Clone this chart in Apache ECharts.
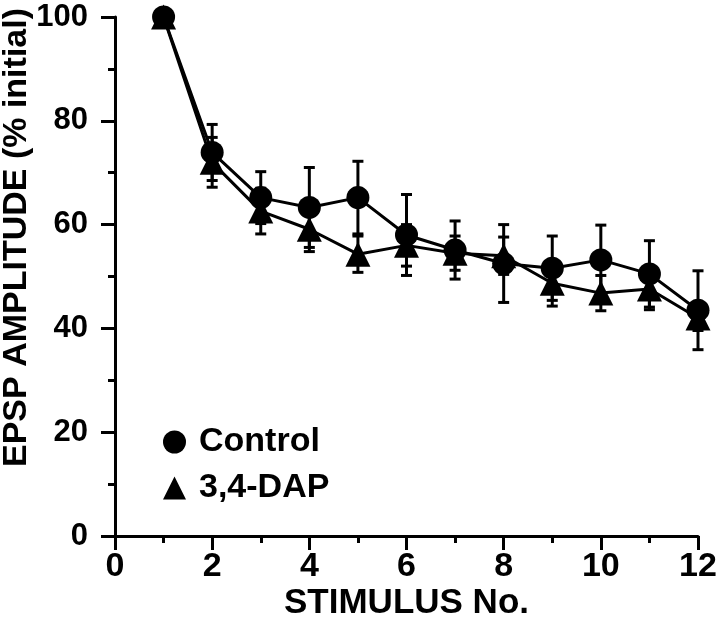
<!DOCTYPE html>
<html>
<head>
<meta charset="utf-8">
<script src="https://cdn.jsdelivr.net/npm/echarts@6/dist/echarts.min.js"></script>
<style>
  html, body { margin: 0; padding: 0; background: #fff; }
  #chart { width: 720px; height: 636px; }
</style>
</head>
<body>
<div id="chart"></div>
<script>
// Datos
const stimulus = [1, 2, 3, 4, 5, 6, 7, 8, 9, 10, 11, 12]
const control = [100, 73.9, 65.2, 63.3, 65.2, 58, 55.1, 52.5, 51.6, 53.2, 50.5, 43.5]
const controlErr = [0, 5.4, 5, 7.7, 7, 7.8, 5.6, 7.5, 6.2, 6.7, 6.4, 7.6]
const dap = [100, 72, 62.6, 59.1, 54.3, 56, 54.5, 54, 48.7, 46.8, 47.6, 42]
const dapErr = [0, 4.8, 4.4, 4.3, 3.5, 4, 3.3, 3.6, 4.4, 3.4, 4, 2.4]
const xTicks = [0, 2, 4, 6, 8, 10, 12]
const yTicks = [0, 20, 40, 60, 80, 100]

const FONT = "'Liberation Sans', Arial, Helvetica, sans-serif"

const toPoints = (ys) => stimulus.map((x, i) => [x, ys[i]])
const toErrors = (ys, errs) => stimulus
  .map((x, i) => [x, ys[i] - errs[i], ys[i] + errs[i]])
  .filter((d, i) => errs[i] > 0)

// Barras de error con remates
const renderErrorBar = (params, api) => {
  const x = api.value(0)
  const lo = api.coord([x, api.value(1)])
  const hi = api.coord([x, api.value(2)])
  const half = 5.5
  const style = { stroke: '#000', lineWidth: 3 }
  return {
    type: 'group',
    children: [
      { type: 'line', shape: { x1: hi[0], y1: hi[1], x2: lo[0], y2: lo[1] }, style },
      { type: 'line', shape: { x1: hi[0] - half, y1: hi[1], x2: hi[0] + half, y2: hi[1] }, style },
      { type: 'line', shape: { x1: lo[0] - half, y1: lo[1], x2: lo[0] + half, y2: lo[1] }, style }
    ]
  }
}

const axisCommon = {
  type: 'value',
  nameMoveOverlap: false,
  axisLine: { show: true, lineStyle: { color: '#000', width: 3 } },
  axisTick: { show: true, length: 14, lineStyle: { color: '#000', width: 3 } },
  minorTick: { show: true, splitNumber: 2, length: 7, lineStyle: { color: '#000', width: 3 } },
  splitLine: { show: false },
  minorSplitLine: { show: false }
}

const chart = echarts.init(document.getElementById('chart'))
chart.setOption({
  animation: false,
  backgroundColor: '#fff',
  grid: { left: 115, right: 22, top: 17, bottom: 100, containLabel: false, outerBoundsMode: 'none' },
  legend: {
    orient: 'vertical',
    left: 158,
    top: 420,
    itemWidth: 23,
    itemHeight: 23,
    itemGap: 12,
    data: [
      { name: 'Control', icon: 'circle' },
      { name: '3,4-DAP', icon: 'triangle' }
    ],
    textStyle: { color: '#000', fontFamily: FONT, fontWeight: 'bold', fontSize: 34, padding: [0, 0, 0, 8] }
  },
  xAxis: {
    ...axisCommon,
    min: 0,
    max: 12,
    interval: 2,
    name: 'STIMULUS No.',
    nameLocation: 'middle',
    nameGap: 50,
    nameTextStyle: { color: '#000', fontFamily: FONT, fontWeight: 'bold', fontSize: 35 },
    axisLabel: {
      margin: 14,
      color: '#000',
      fontFamily: FONT,
      fontWeight: 'bold',
      fontSize: 34,
      customValues: xTicks
    }
  },
  yAxis: {
    ...axisCommon,
    min: 0,
    max: 100,
    interval: 20,
    name: 'EPSP AMPLITUDE (% initial)',
    nameLocation: 'middle',
    nameGap: 81,
    nameTextStyle: { color: '#000', fontFamily: FONT, fontWeight: 'bold', fontSize: 34, padding: [0, 0, 0, 78] },
    axisLabel: {
      margin: 27,
      color: '#000',
      fontFamily: FONT,
      fontWeight: 'bold',
      fontSize: 31,
      customValues: yTicks
    }
  },
  series: [
    {
      name: '3,4-DAP',
      type: 'line',
      data: toPoints(dap),
      symbol: 'triangle',
      symbolSize: 25,
      itemStyle: { color: '#000' },
      lineStyle: { color: '#000', width: 3 },
      z: 3
    },
    {
      name: 'Control',
      type: 'line',
      data: toPoints(control),
      symbol: 'circle',
      symbolSize: 23,
      itemStyle: { color: '#000' },
      lineStyle: { color: '#000', width: 3 },
      z: 4
    },
    {
      name: '3,4-DAP err',
      type: 'custom',
      renderItem: renderErrorBar,
      data: toErrors(dap, dapErr),
      encode: { x: 0, y: [1, 2] },
      z: 2
    },
    {
      name: 'Control err',
      type: 'custom',
      renderItem: renderErrorBar,
      data: toErrors(control, controlErr),
      encode: { x: 0, y: [1, 2] },
      z: 2
    }
  ]
})
</script>
</body>
</html>
